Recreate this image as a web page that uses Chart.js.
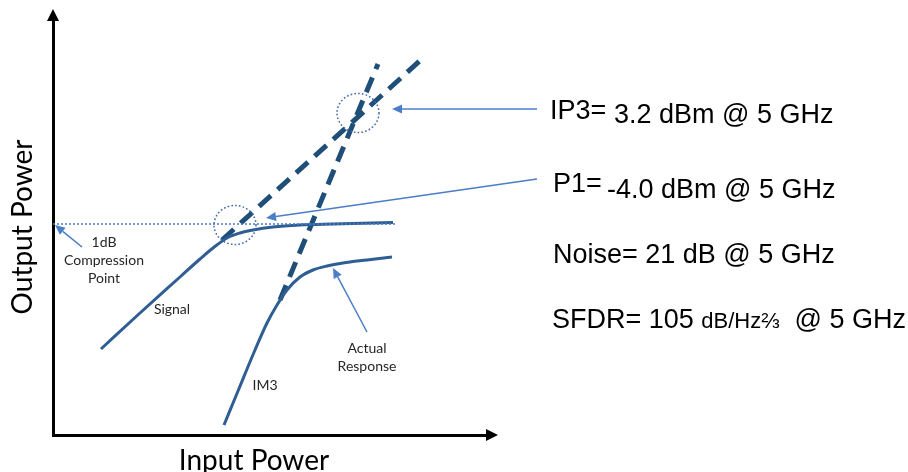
<!DOCTYPE html>
<html><head><meta charset="utf-8">
<script src="https://cdn.jsdelivr.net/npm/chart.js@4/dist/chart.umd.min.js"></script>
<style>html,body{margin:0;padding:0;background:#fff;}canvas{display:block;}</style>
</head><body>
<canvas id="c" width="908" height="472"></canvas>
<script>
// ---- Data (arbitrary schematic units: input power on x, output power on y) ----
const signalIn  = [48, 87, 127, 147, 160, 174, 187, 200, 220, 247, 280, 340];
const signalOut = [86, 122, 158, 176, 187, 197, 202, 205, 208, 210, 211, 212.5];
const im3In     = [171, 185, 202, 214, 224, 234, 247, 260, 274, 290, 314, 339];
const im3Out    = [10, 44, 85, 112, 130, 145, 158, 165, 169, 172, 175, 178];
const signalExtIn  = [169, 370];
const signalExtOut = [195, 377];
const im3ExtIn  = [227, 325];
const im3ExtOut = [135, 371];
const p1RefIn  = [0, 342];
const p1RefOut = [211, 211];
// marker circles: P1 point, IP3 point
const markerIn  = [182, 305];
const markerOut = [210, 322];
// in-plot labels
const plotLabels = ['1dB', 'Compression', 'Point', 'Signal', 'IM3', 'Actual', 'Response'];
const plotLabelIn  = [51, 51, 51, 119, 212, 314, 314];
const plotLabelOut = [193, 175, 157, 126, 50, 87, 69];
// pointer arrows [fromX, fromY, toX, toY]
const arrowFromIn  = [29, 314, 484, 484];
const arrowFromOut = [188, 103, 326, 256];
const arrowToIn    = [2, 280, 339, 213];
const arrowToOut   = [210, 167, 326, 217];
// side texts
const xTitle = 'Input Power';
const yTitle = 'Output Power';

const toPts = (xs, ys) => xs.map((x, i) => ({x: x, y: ys[i]}));

function drawArrow(ctx, x1, y1, x2, y2, len, half, color, w) {
  const ang = Math.atan2(y2 - y1, x2 - x1);
  const bx = x2 - Math.cos(ang) * len, by = y2 - Math.sin(ang) * len;
  ctx.save();
  ctx.strokeStyle = color; ctx.fillStyle = color; ctx.lineWidth = w;
  ctx.beginPath(); ctx.moveTo(x1, y1); ctx.lineTo(bx, by); ctx.stroke();
  ctx.beginPath();
  ctx.moveTo(x2, y2);
  ctx.lineTo(bx + Math.sin(ang) * half, by - Math.cos(ang) * half);
  ctx.lineTo(bx - Math.sin(ang) * half, by + Math.cos(ang) * half);
  ctx.closePath(); ctx.fill();
  ctx.restore();
}

const annot = {
  id: 'annot',
  afterDraw(chart) {
    const ctx = chart.ctx, xs = chart.scales.x, ys = chart.scales.y, ca = chart.chartArea;
    // axis arrowheads
    ctx.save();
    ctx.fillStyle = '#000';
    const ax = xs.left, ay = ys.bottom;
    ctx.beginPath(); ctx.moveTo(ax, ca.top - 11); ctx.lineTo(ax - 6, ca.top + 1); ctx.lineTo(ax + 6, ca.top + 1); ctx.closePath(); ctx.fill();
    ctx.beginPath(); ctx.moveTo(ca.right + 11, ay); ctx.lineTo(ca.right - 1, ay - 6); ctx.lineTo(ca.right - 1, ay + 6); ctx.closePath(); ctx.fill();
    ctx.restore();

    // dotted marker circles
    ctx.save();
    ctx.strokeStyle = '#3F6BAA'; ctx.lineWidth = 1.5; ctx.setLineDash([1.6, 2.2]);
    markerIn.forEach((v, i) => {
      ctx.beginPath();
      ctx.ellipse(xs.getPixelForValue(v), ys.getPixelForValue(markerOut[i]), 21, 19.5, 0, 0, Math.PI * 2);
      ctx.stroke();
    });
    ctx.restore();

    // pointer arrows
    arrowFromIn.forEach((v, i) => {
      drawArrow(ctx, xs.getPixelForValue(v), ys.getPixelForValue(arrowFromOut[i]),
        xs.getPixelForValue(arrowToIn[i]), ys.getPixelForValue(arrowToOut[i]), 10, 4.5, '#4A7EC7', 1.5);
    });

    // in-plot labels
    ctx.save();
    ctx.fillStyle = '#262626'; ctx.font = '14px Lato'; ctx.textAlign = 'center'; ctx.textBaseline = 'middle';
    plotLabels.forEach((t, i) => ctx.fillText(t, xs.getPixelForValue(plotLabelIn[i]), ys.getPixelForValue(plotLabelOut[i])));
    ctx.restore();

    // axis titles
    ctx.save();
    ctx.fillStyle = '#000'; ctx.font = '28px Lato'; ctx.textAlign = 'center'; ctx.textBaseline = 'alphabetic';
    ctx.fillText(xTitle, 254, 470);
    ctx.translate(32, 227); ctx.rotate(-Math.PI / 2);
    ctx.fillText(yTitle, 0, 0);
    ctx.restore();

    // right side texts
    ctx.save();
    ctx.fillStyle = '#000'; ctx.textAlign = 'left'; ctx.textBaseline = 'alphabetic';
    const big = '27px "Liberation Sans", Arial, sans-serif';
    ctx.font = big;
    ctx.fillText('IP3=', 550, 119);
    ctx.fillText('3.2 dBm @ 5 GHz', 614, 123);
    ctx.fillText('P1=', 553, 192);
    ctx.fillText('-4.0 dBm @ 5 GHz', 607, 198);
    ctx.fillText('Noise= 21 dB @ 5 GHz', 553, 263);
    let x = 552;
    ctx.fillText('SFDR= 105 ', x, 328);
    x += ctx.measureText('SFDR= 105 ').width;
    ctx.font = '22px "Liberation Sans", Arial, sans-serif';
    ctx.fillText('dB/Hz\u2154', x, 328);
    x += ctx.measureText('dB/Hz\u2154').width;
    ctx.font = big;
    ctx.fillText('  @ 5 GHz', x, 328);
    ctx.restore();
  }
};

new Chart(document.getElementById('c'), {
  type: 'line',
  data: {
    datasets: [
      {label: '1dB reference', data: toPts(p1RefIn, p1RefOut), borderColor: '#4A7EC7', borderWidth: 1.5, borderDash: [2, 2], pointRadius: 0},
      {label: 'Signal', data: toPts(signalIn, signalOut), borderColor: '#2E5E94', borderWidth: 3, pointRadius: 0, cubicInterpolationMode: 'monotone'},
      {label: 'IM3', data: toPts(im3In, im3Out), borderColor: '#2E5E94', borderWidth: 3, pointRadius: 0, cubicInterpolationMode: 'monotone'},
      {label: 'Signal extrapolated', data: toPts(signalExtIn, signalExtOut), borderColor: '#1F4E79', borderWidth: 5, borderDash: [16, 9], pointRadius: 0},
      {label: 'IM3 extrapolated', data: toPts(im3ExtIn, im3ExtOut), borderColor: '#1F4E79', borderWidth: 5, borderDash: [16, 9], pointRadius: 0}
    ]
  },
  options: {
    responsive: false,
    animation: false,
    devicePixelRatio: 1,
    layout: {padding: {left: 53, right: 421, top: 20, bottom: 37}},
    plugins: {legend: {display: false}, tooltip: {enabled: false}},
    elements: {line: {borderCapStyle: 'butt'}},
    scales: {
      x: {type: 'linear', min: 0, max: 434, grid: {display: false, drawTicks: false, tickLength: 0}, ticks: {display: false, padding: 0}, border: {display: true, color: '#000', width: 3}},
      y: {type: 'linear', min: 0, max: 415, grid: {display: false, drawTicks: false, tickLength: 0}, ticks: {display: false, padding: 0}, border: {display: true, color: '#000', width: 3}}
    }
  },
  plugins: [annot]
});
</script>
</body></html>
